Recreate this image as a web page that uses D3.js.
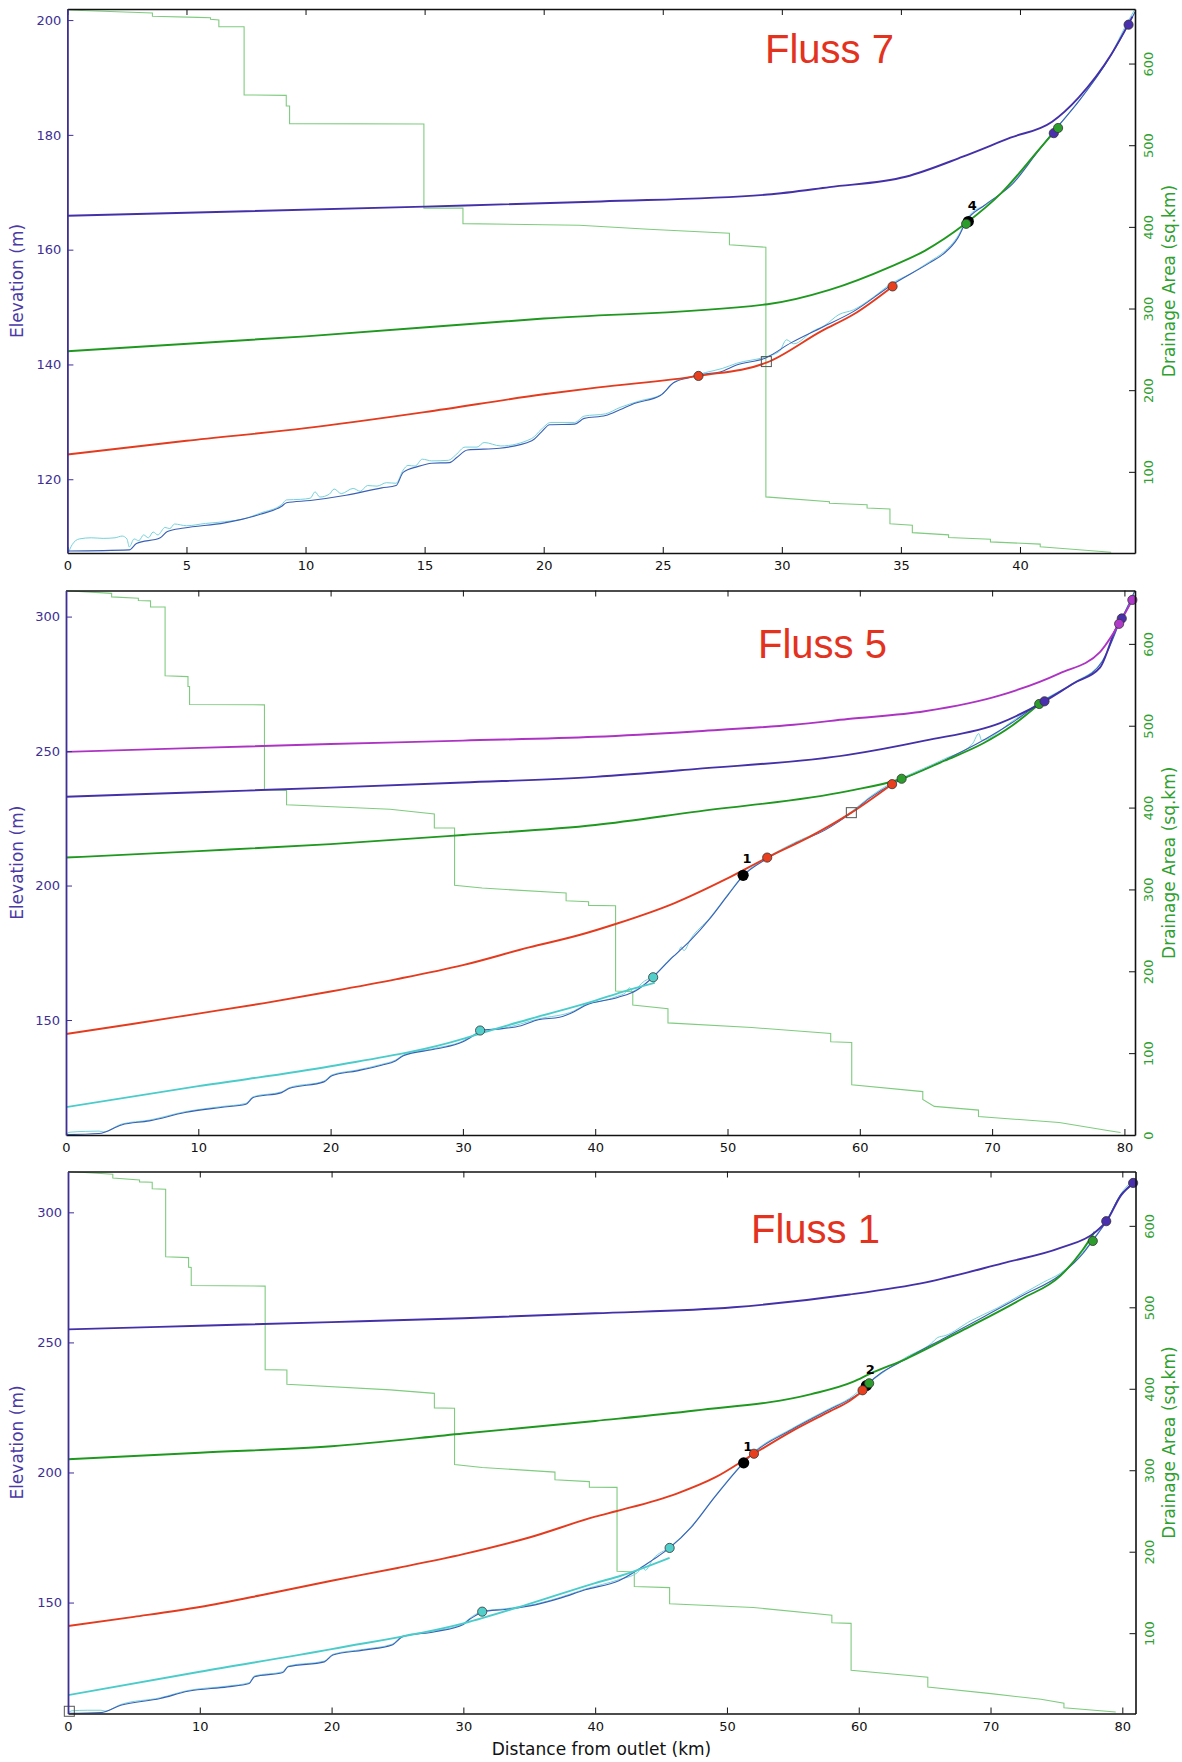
<!DOCTYPE html>
<html lang="en">
<head>
<meta charset="UTF-8">
<title>Fluss Längsprofile</title>
<script src="https://cdn.jsdelivr.net/npm/d3@7"></script>
<style>
  body { margin: 0; background: #fff; }
  svg { display: block; font-family: "DejaVu Sans", sans-serif; }
</style>
</head>
<body>
<svg id="chart" width="1182" height="1762"></svg>
<script>
// ---------- Fluss 7 ----------
const f7XDomain = [0, 44.83], f7YDomain = [107.15, 201.93], f7ADomain = [0.6, 666.8];
const f7XTicks = [0, 5, 10, 15, 20, 25, 30, 35, 40];
const f7YTicks = [120, 140, 160, 180, 200];
const f7ATicks = [100, 200, 300, 400, 500, 600];
const f7Area = [[0,665.5],[3.57,662],[3.57,658],[5.48,656.5],[6.01,656],[6.01,654.2],[6.36,653.3],[6.36,645.2],[7.42,645],[7.42,561.6],[9.19,561],[9.19,548],[9.33,548],[9.33,526.4],[14.97,526],[14.97,423],[16.61,423],[16.61,404],[21.5,402],[24.4,397],[27.8,392.2],[27.8,378],[29.33,375],[29.33,69.3],[32.0,63.4],[32.0,61.6],[33.58,59.8],[33.58,55.7],[34.54,54.4],[34.54,36.3],[35.48,34.5],[35.48,25.5],[37.0,22.8],[37.0,19.6],[38.76,17.4],[38.76,14.2],[40.85,11.5],[40.85,8.3],[41.66,6.5],[43.83,1.5]];
const f7Profile = [[0,107.5],[2.6,107.7],[2.9,108.8],[3.9,109.8],[4.2,110.9],[4.9,111.5],[6.6,112.4],[8.1,113.9],[9.0,115.3],[9.2,115.9],[10.2,116.3],[11.7,117.2],[13.2,118.5],[13.8,118.9],[14.1,121.2],[14.7,122.2],[15.3,122.8],[16.05,122.9],[16.35,123.8],[16.8,125.1],[18.15,125.4],[19.5,126.7],[19.9,128.2],[20.25,129.5],[21.3,129.6],[21.7,130.6],[22.6,131.1],[23.2,132.1],[23.8,133.2],[24.9,134.6],[25.45,136.8],[26.1,137.7],[26.7,138.3],[27.4,138.7],[28.1,139.9],[29.3,141.1],[30.4,143.8],[31.7,146.5],[33.0,149.2],[34.6,153.8],[36.2,157.7],[36.8,159.3],[37.4,162.1],[37.75,165.0],[38.5,167.7],[39.7,171.5],[40.7,176.8],[41.4,180.5],[42.5,186.0],[43.8,193.7],[44.55,199.2],[44.83,201.4]];
const f7Raw = [[0.05,107.3],[0.2,108.6],[0.5,109.6],[1.0,109.8],[1.5,109.7],[2.0,109.8],[2.3,110.1],[2.5,109.6],[2.6,108.2],[2.8,109.6],[3.0,109.3],[3.2,110.3],[3.4,109.8],[3.6,110.8],[3.8,110.3],[4.1,111.6],[4.3,111.4],[4.5,112.2],[5.0,111.9],[5.8,112.3],[6.6,112.6],[7.5,113.2],[8.1,114.1],[9.0,115.6],[9.2,116.4],[9.8,116.5],[10.2,116.7],[10.4,117.8],[10.6,116.9],[11.0,117.4],[11.2,118.3],[11.5,117.5],[12.0,118.4],[12.3,117.9],[12.6,118.9],[13.0,118.8],[13.4,119.4],[13.8,119.3],[14.1,121.6],[14.3,122.4],[14.6,122.3],[14.9,123.5],[15.3,123.2],[16.0,123.3],[16.3,124.2],[16.7,125.6],[17.2,125.6],[17.5,126.4],[18.2,125.8],[19.5,127.1],[19.9,128.7],[20.3,129.9],[21.3,129.9],[21.7,131.0],[22.6,131.4],[23.2,132.5],[24.0,133.6],[25.0,134.9],[25.5,137.0],[26.2,137.9],[26.8,138.6],[27.5,139.3],[28.1,140.2],[29.3,141.3],[29.9,142.3],[30.2,144.3],[30.5,143.6],[31.3,145.8],[31.8,146.8],[32.4,148.7],[33.0,149.5],[33.8,151.6],[34.6,154.1],[35.4,155.8],[36.2,157.9],[36.8,159.6],[37.4,162.4],[37.8,165.6],[38.0,166.5],[38.6,167.9],[39.2,169.8],[39.7,171.8],[40.7,177.0],[41.4,180.6],[42.5,186.1],[43.8,193.8],[44.5,199.5],[44.83,201.9]];
const f7Purple = [[0,165.9],[15,167.5],[22.4,168.4],[29.4,169.6],[32,170.9],[35.2,172.7],[37.6,176.2],[39.6,179.5],[41.35,182.3],[42.46,186.5],[43.83,194.0],[44.72,200.6]];
const f7Green = [[0,142.3],[10,144.9],[20,148.0],[29.4,150.5],[32,153.0],[34.6,157.1],[36,159.8],[37.7,164.5],[39.2,169.8],[40.85,177.7],[41.58,181.2]];
const f7Red = [[0,124.3],[5,126.7],[10,128.9],[15,131.7],[20,134.8],[22.3,136.0],[26.5,138.0],[29.35,140.3],[31.7,145.9],[33.0,148.7],[34.65,153.6]];
const f7PurpleDots = [[41.42,180.3],[44.56,199.2]];
const f7GreenDots = [[37.74,164.5],[41.6,181.2]];
const f7RedDots = [[26.5,138.0],[34.65,153.6]];
const f7Knicks = [[37.83,164.9]];
const f7KnickLabels = ["4"];
const f7Squares = [[29.35,140.5]];

// ---------- Fluss 5 ----------
const f5XDomain = [0, 80.8], f5YDomain = [107.25, 309.7], f5ADomain = [0, 665.2];
const f5XTicks = [0, 10, 20, 30, 40, 50, 60, 70, 80];
const f5YTicks = [150, 200, 250, 300];
const f5ATicks = [0, 100, 200, 300, 400, 500, 600];
const f5Area = [[0,665],[3.45,661.7],[3.45,657.4],[5.47,655.7],[5.47,653],[6.39,652.5],[6.39,645.2],[7.49,645],[7.49,561],[9.22,560],[9.22,548],[9.34,548],[9.34,526],[15.0,525.5],[15.0,421.7],[16.67,421],[16.67,403.5],[24.5,398],[27.84,392.2],[27.84,375.2],[29.37,375],[29.37,305.2],[31.45,301.7],[37.8,295.6],[37.8,286.1],[39.5,285],[39.5,280.5],[41.54,280],[41.54,176],[42.84,175],[42.84,158.7],[45.5,154.3],[45.5,137],[51.84,131.3],[57.8,124],[57.8,114],[59.39,113],[59.39,61.3],[64.76,53],[64.76,43.5],[65.63,35],[68.97,30.4],[68.97,22.6],[75.07,15.2],[78.84,5.2],[79.71,3]];
const f5Profile = [[0,107.4],[2.5,107.8],[4.2,111.0],[6.3,112.5],[9.0,115.6],[11.7,117.5],[13.6,118.7],[14.15,121.2],[16.3,123.0],[16.85,124.5],[19.5,127.0],[20.1,129.3],[22.0,131.1],[23.85,133.2],[24.9,134.8],[25.5,136.7],[27.9,139.2],[30.0,141.9],[30.6,143.6],[31.0,144.8],[31.3,146.1],[33.0,146.8],[34.4,147.9],[35.7,150.1],[37.3,151.0],[38.4,153.1],[39.2,155.3],[41.7,158.4],[43.1,161.0],[44.4,166.1],[45.75,172.9],[47.2,179.6],[48.65,187.6],[50.1,196.9],[51.18,203.6],[53.0,210.0],[55.0,215.4],[57.4,220.7],[59.4,227.2],[60.8,232.7],[62.4,237.6],[63.2,239.5],[66.4,246.6],[69.3,253.9],[71.5,260.5],[73.6,267.9],[76.2,275.2],[78.3,283.1],[79.3,293.8],[79.6,297.7],[79.8,299.5],[80.5,306.4],[80.8,309.7]];
const f5Raw = [[0,107.5],[0.3,108.3],[1.5,108.6],[2.5,108.7],[2.8,108.4],[4.2,111.3],[6.3,112.8],[9.0,115.9],[11.7,117.8],[13.6,119.0],[14.15,121.5],[16.3,123.3],[16.85,124.8],[19.5,127.3],[20.1,129.6],[22,131.4],[23.85,133.5],[24.9,135.1],[25.5,137.0],[27.9,139.5],[30,142.2],[31.0,145.1],[31.3,146.0],[33,146.9],[35.7,150.4],[38.4,153.4],[39.2,155.6],[40.8,157.4],[41.7,158.9],[42.3,160.2],[42.6,162.0],[42.8,160.6],[43.1,161.4],[43.5,163.6],[44.4,166.4],[45.75,173.2],[46.3,175.4],[46.5,177.2],[46.7,175.8],[47.2,180.0],[48.65,187.9],[50.1,197.2],[51.18,203.9],[53,210.4],[55,215.8],[57.4,221.2],[59.4,227.6],[60.8,233.1],[62.4,238.1],[63.2,240.0],[66.4,247.1],[68.5,252.6],[69.0,256.5],[69.2,254.0],[71.5,261.0],[73.6,268.2],[76.2,275.5],[78.3,283.4],[79.3,294.0],[80.5,306.6],[80.8,309.7]];
const f5Magenta = [[0,249.7],[10,251.2],[20,252.6],[30,253.9],[40,255.3],[47.5,257.3],[55,259.8],[59.1,261.9],[64.9,264.8],[70.6,270.7],[75.1,278.9],[78.15,286.8],[79.6,297.3],[80.6,306.2]];
const f5Purple = [[0,233.0],[10,234.7],[20,236.4],[30,238.3],[40,240.4],[47.5,243.3],[59.1,248.6],[64.9,253.9],[70.6,260.4],[73.96,268.5],[76.2,275.3],[78.15,281.0],[79.4,296.0],[79.8,299.3]];
const f5Green = [[0,210.4],[10,212.8],[20,215.4],[30,218.8],[40,222.5],[47.5,227.4],[59.1,235.1],[63.16,239.7],[66.4,246.4],[69.3,252.8],[71.5,259.4],[73.56,267.5]];
const f5Red = [[0,144.8],[5,148.5],[10,152.4],[15,156.3],[20,160.6],[25,165.2],[30,170.4],[35,177.0],[38.8,181.6],[41.6,185.8],[46.0,193.5],[49.8,202.2],[53.0,210.4],[56.2,218.1],[59.36,227.1],[62.44,237.7]];
const f5Cyan = [[0,117.6],[10,125.4],[20,132.8],[30,143.0],[31.3,145.0],[35,150.3],[40,157.2],[42,160.4],[44.5,163.8]];
const f5CyanDots = [[31.3,146.1],[44.38,165.9]];
const f5RedDots = [[53.0,210.4],[62.44,237.7]];
const f5GreenDots = [[63.16,239.7],[73.56,267.5]];
const f5PurpleDots = [[73.96,268.5],[79.8,299.3]];
const f5MagentaDots = [[79.6,297.3],[80.6,306.2]];
const f5Knicks = [[51.18,203.8]];
const f5KnickLabels = ["1"];
const f5Squares = [[59.36,227.1]];

// ---------- Fluss 1 ----------
const f1XDomain = [0, 81.0], f1YDomain = [107.35, 315.7], f1ADomain = [1.4, 666.7];
const f1XTicks = [0, 10, 20, 30, 40, 50, 60, 70, 80];
const f1YTicks = [150, 200, 250, 300];
const f1ATicks = [100, 200, 300, 400, 500, 600];
const f1Area = [[0,666.7],[3.4,663.4],[3.4,658.7],[5.43,656.3],[5.43,654],[6.39,653.5],[6.39,645.5],[7.41,645],[7.41,562],[9.15,561],[9.15,549.3],[9.35,549],[9.35,526.8],[14.96,526],[14.96,423.5],[16.61,423],[16.61,405.6],[24.46,398.6],[27.8,394.4],[27.8,376.5],[29.33,376],[29.33,307],[31.43,303.3],[36.95,297.7],[36.95,288.3],[39.56,286],[39.56,279.3],[41.66,279],[41.66,176],[42.97,175],[42.97,157.3],[45.65,155.9],[45.65,136.2],[52.0,131.5],[57.96,122.1],[57.96,112.7],[59.42,112],[59.42,54.5],[65.24,46],[65.24,33.8],[70.04,25.8],[73.83,18.8],[75.57,14],[75.57,8.5],[79.5,3.3]];
const f1Profile = [[0,107.4],[2.5,107.7],[4.0,110.5],[7.0,113.1],[9.1,115.9],[12.1,117.6],[13.75,118.9],[14.15,121.5],[16.3,123.1],[16.7,125.3],[19.45,127.2],[20.1,129.8],[22.4,131.7],[24.6,133.7],[25.4,136.9],[27.85,138.8],[30.0,141.6],[30.4,143.3],[31.0,145.2],[31.43,146.5],[33.3,147.4],[35.45,149.1],[37.35,151.7],[39.25,154.9],[41.8,158.4],[44.4,166.5],[45.65,171.0],[47.3,179.0],[49.1,190.7],[51.27,203.7],[52.05,207.6],[54.9,216.4],[57.8,224.2],[59.3,228.1],[60.3,231.6],[60.6,233.4],[63.6,243.7],[66.55,251.8],[69.5,259.9],[72.4,267.9],[75.3,276.0],[77.0,284.1],[77.8,289.5],[78.8,296.6],[79.9,306.9],[80.82,311.3],[81.0,313]];
const f1Raw = [[0,107.5],[0.3,108.4],[1.5,108.6],[2.5,108.6],[2.8,108.3],[4.0,110.8],[7.0,113.4],[9.1,116.2],[12.1,117.9],[13.75,119.2],[14.15,121.8],[16.3,123.4],[16.7,125.6],[19.45,127.5],[20.1,130.1],[22.4,132.0],[24.6,134.0],[25.4,137.2],[27.85,139.1],[30,141.9],[30.4,143.6],[31.43,146.6],[33.3,147.7],[35.45,149.4],[37.35,152.0],[39.25,155.2],[41.8,158.8],[43.2,161.5],[43.6,163.9],[43.8,162.4],[44.4,166.8],[45.65,171.3],[47.3,179.3],[49.1,191.0],[51.27,204.0],[52.05,207.9],[54.9,216.8],[57.8,224.6],[59.3,228.5],[60.6,233.8],[63.6,244.3],[65.5,249.6],[66.0,251.9],[66.55,252.6],[68.5,258.3],[69.5,260.8],[70.5,263.2],[72.4,268.6],[74.0,273.1],[75.3,276.6],[77.0,284.6],[77.8,289.8],[78.8,296.9],[79.9,307.2],[81.0,313.2]];
const f1Purple = [[0,255.0],[10,256.4],[20,257.8],[30,259.3],[40,261.2],[50.5,263.5],[59.3,268.4],[65.1,273.1],[70.9,280.4],[75.3,286.3],[77.9,292.2],[78.8,296.6],[79.9,306.5],[80.82,311.3]];
const f1Green = [[0,205.1],[10,207.6],[20,210.1],[30,215.0],[40,219.8],[47.6,223.8],[56.4,230.1],[59.6,234.9],[60.8,237.8],[63.6,243.7],[68,255.0],[72.4,266.8],[75.3,275.6],[77.0,285.6],[77.9,292.5]];
const f1Red = [[0,141.0],[5,144.5],[10,148.3],[15,153.2],[20,158.4],[25,163.3],[30,168.6],[35,175.0],[40,183.0],[41.66,185.2],[46.2,191.9],[49.1,198.1],[52.05,207.2],[54.9,215.8],[57.8,223.5],[59.3,227.5],[60.29,231.2]];
const f1Cyan = [[0,114.4],[10,123.4],[20,132.1],[30,142.0],[35,149.5],[40,157.5],[42,160.4],[45.65,167.2]];
const f1CyanDots = [[31.43,146.5],[45.65,171.0]];
const f1RedDots = [[52.05,207.2],[60.29,231.6]];
const f1GreenDots = [[60.79,234.3],[77.76,289.0]];
const f1PurpleDots = [[78.78,296.6],[80.82,311.3]];
const f1Knicks = [[51.27,203.7],[60.58,233.4]];
const f1KnickLabels = ["1", "2"];
const f1Squares = [[0.1,108.2]];

// colours
const C = {
  purple: "#4430a8", green: "#1f981f", red: "#e43b1e", cyan: "#4accca", magenta: "#ad34c3",
  profile: "#3a5fb6", raw: "#74d2da", area: "#7fcb7f",
  elev: "#3d2f94", areaTxt: "#2f9f2f", title: "#e3331f"
};
const DOT = { purple: "#4a30ae", green: "#2c9c2c", red: "#e8401f", cyan: "#52cfca", magenta: "#b23acb" };

const panels = [
  { title: "Fluss 7", titlePos: [765, 63], box: { l: 67.4, r: 1135, t: 9, b: 553 },
    xDom: f7XDomain, yDom: f7YDomain, aDom: f7ADomain, xTicks: f7XTicks, yTicks: f7YTicks, aTicks: f7ATicks,
    area: f7Area, raw: f7Raw, profile: f7Profile,
    fits: [[f7Red, C.red], [f7Green, C.green], [f7Purple, C.purple]],
    dots: [[f7RedDots, DOT.red], [f7PurpleDots, DOT.purple], [f7GreenDots, DOT.green]],
    knicks: f7Knicks, knickLabels: f7KnickLabels, squares: f7Squares },
  { title: "Fluss 5", titlePos: [758, 658], box: { l: 66, r: 1135, t: 590.5, b: 1135 },
    xDom: f5XDomain, yDom: f5YDomain, aDom: f5ADomain, xTicks: f5XTicks, yTicks: f5YTicks, aTicks: f5ATicks,
    area: f5Area, raw: f5Raw, profile: f5Profile,
    fits: [[f5Cyan, C.cyan], [f5Red, C.red], [f5Green, C.green], [f5Purple, C.purple], [f5Magenta, C.magenta]],
    dots: [[f5CyanDots, DOT.cyan], [f5RedDots, DOT.red], [f5GreenDots, DOT.green], [f5PurpleDots, DOT.purple], [f5MagentaDots, DOT.magenta]],
    knicks: f5Knicks, knickLabels: f5KnickLabels, squares: f5Squares },
  { title: "Fluss 1", titlePos: [751, 1243], box: { l: 68, r: 1135.5, t: 1171.5, b: 1713.5 },
    xDom: f1XDomain, yDom: f1YDomain, aDom: f1ADomain, xTicks: f1XTicks, yTicks: f1YTicks, aTicks: f1ATicks,
    area: f1Area, raw: f1Raw, profile: f1Profile,
    fits: [[f1Cyan, C.cyan], [f1Red, C.red], [f1Green, C.green], [f1Purple, C.purple]],
    dots: [[f1CyanDots, DOT.cyan], [f1RedDots, DOT.red], [f1GreenDots, DOT.green], [f1PurpleDots, DOT.purple]],
    knicks: f1Knicks, knickLabels: f1KnickLabels, squares: f1Squares }
];

const svg = d3.select("#chart");
svg.append("rect").attr("width", 1182).attr("height", 1762).attr("fill", "#fff");

panels.forEach((p, i) => {
  const b = p.box;
  const x = d3.scaleLinear().domain(p.xDom).range([b.l, b.r]);
  const y = d3.scaleLinear().domain(p.yDom).range([b.b, b.t]);
  const ya = d3.scaleLinear().domain(p.aDom).range([b.b, b.t]);
  const g = svg.append("g");

  g.append("clipPath").attr("id", "clip" + i)
    .append("rect").attr("x", b.l).attr("y", b.t).attr("width", b.r - b.l).attr("height", b.b - b.t);
  const plot = g.append("g").attr("clip-path", `url(#clip${i})`);

  // smooth curves for profiles and fits, straight segments for the area steps
  const line = d3.line().x(d => x(d[0])).y(d => y(d[1])).curve(d3.curveMonotoneX);
  const aline = d3.line().x(d => x(d[0])).y(d => ya(d[1]));

  plot.append("path").datum(p.area).attr("d", aline)
    .attr("fill", "none").attr("stroke", C.area).attr("stroke-width", 1.1);

  plot.append("path").datum(p.raw).attr("d", line)
    .attr("fill", "none").attr("stroke", C.raw).attr("stroke-width", 1);
  plot.append("path").datum(p.profile).attr("d", line)
    .attr("fill", "none").attr("stroke", C.profile).attr("stroke-width", 1.1);

  p.fits.forEach(([pts, col]) => {
    plot.append("path").datum(pts).attr("d", line)
      .attr("fill", "none").attr("stroke", col).attr("stroke-width", 1.9);
  });

  // knickpoints (black) with numbers
  g.selectAll(null).data(p.knicks).join("circle")
    .attr("cx", d => x(d[0])).attr("cy", d => y(d[1])).attr("r", 5.6).attr("fill", "#000");
  g.selectAll(null).data(p.knicks).join("text")
    .attr("x", d => x(d[0]) + 4).attr("y", d => y(d[1]) - 12)
    .attr("text-anchor", "middle").attr("font-size", 13).attr("font-weight", "bold")
    .text((d, k) => p.knickLabels[k]);

  g.selectAll(null).data(p.squares).join("rect")
    .attr("x", d => x(d[0]) - 5).attr("y", d => y(d[1]) - 5).attr("width", 10).attr("height", 10)
    .attr("fill", "none").attr("stroke", "#555").attr("stroke-width", 1);

  p.dots.forEach(([pts, col]) => {
    g.selectAll(null).data(pts).join("circle")
      .attr("cx", d => x(d[0])).attr("cy", d => y(d[1])).attr("r", 4.6)
      .attr("fill", col).attr("stroke", "#333").attr("stroke-width", 0.8);
  });

  // axes
  const fmt = d3.format("d");
  const bottom = g.append("g").attr("transform", `translate(0,${b.b})`)
    .call(d3.axisBottom(x).tickValues(p.xTicks).tickSize(-6).tickSizeOuter(0).tickPadding(8).tickFormat(fmt));
  const top = g.append("g").attr("transform", `translate(0,${b.t})`)
    .call(d3.axisTop(x).tickValues(p.xTicks).tickSize(-6).tickSizeOuter(0).tickFormat(() => ""));
  const right = g.append("g").attr("transform", `translate(${b.r},0)`)
    .call(d3.axisRight(ya).tickValues(p.aTicks).tickSize(-6).tickSizeOuter(0).tickFormat(fmt));
  const left = g.append("g").attr("transform", `translate(${b.l},0)`)
    .call(d3.axisLeft(y).tickValues(p.yTicks).tickSize(-6).tickSizeOuter(0).tickPadding(6).tickFormat(fmt));

  [bottom, top, right, left].forEach(a => a.attr("font-family", "DejaVu Sans").attr("font-size", 13));
  [bottom, top, right].forEach(a => {
    a.style("color", "#111");
    a.select(".domain").attr("stroke-width", 1.6);
  });
  bottom.selectAll("text").attr("fill", "#111");
  left.style("color", C.elev);
  left.select(".domain").attr("stroke-width", 1.8);
  right.selectAll("text").attr("fill", C.areaTxt)
    .attr("x", 0).attr("dy", null).attr("text-anchor", "middle")
    .attr("transform", "translate(18,0) rotate(-90)");

  // axis titles
  const cy = (b.t + b.b) / 2;
  g.append("text").attr("transform", `translate(23,${cy}) rotate(-90)`)
    .attr("text-anchor", "middle").attr("font-size", 17).attr("fill", "#4b3aa6")
    .text("Elevation (m)");
  g.append("text").attr("transform", `translate(1175,${cy}) rotate(-90)`)
    .attr("text-anchor", "middle").attr("font-size", 17).attr("fill", C.areaTxt)
    .text("Drainage Area (sq.km)");

  g.append("text").attr("x", p.titlePos[0]).attr("y", p.titlePos[1])
    .attr("font-family", "Liberation Sans, Arial, sans-serif").attr("font-size", 40)
    .attr("fill", C.title).text(p.title);
});

svg.append("text").attr("x", 601.5).attr("y", 1755)
  .attr("text-anchor", "middle").attr("font-size", 17).attr("fill", "#111")
  .text("Distance from outlet (km)");
</script>
</body>
</html>
